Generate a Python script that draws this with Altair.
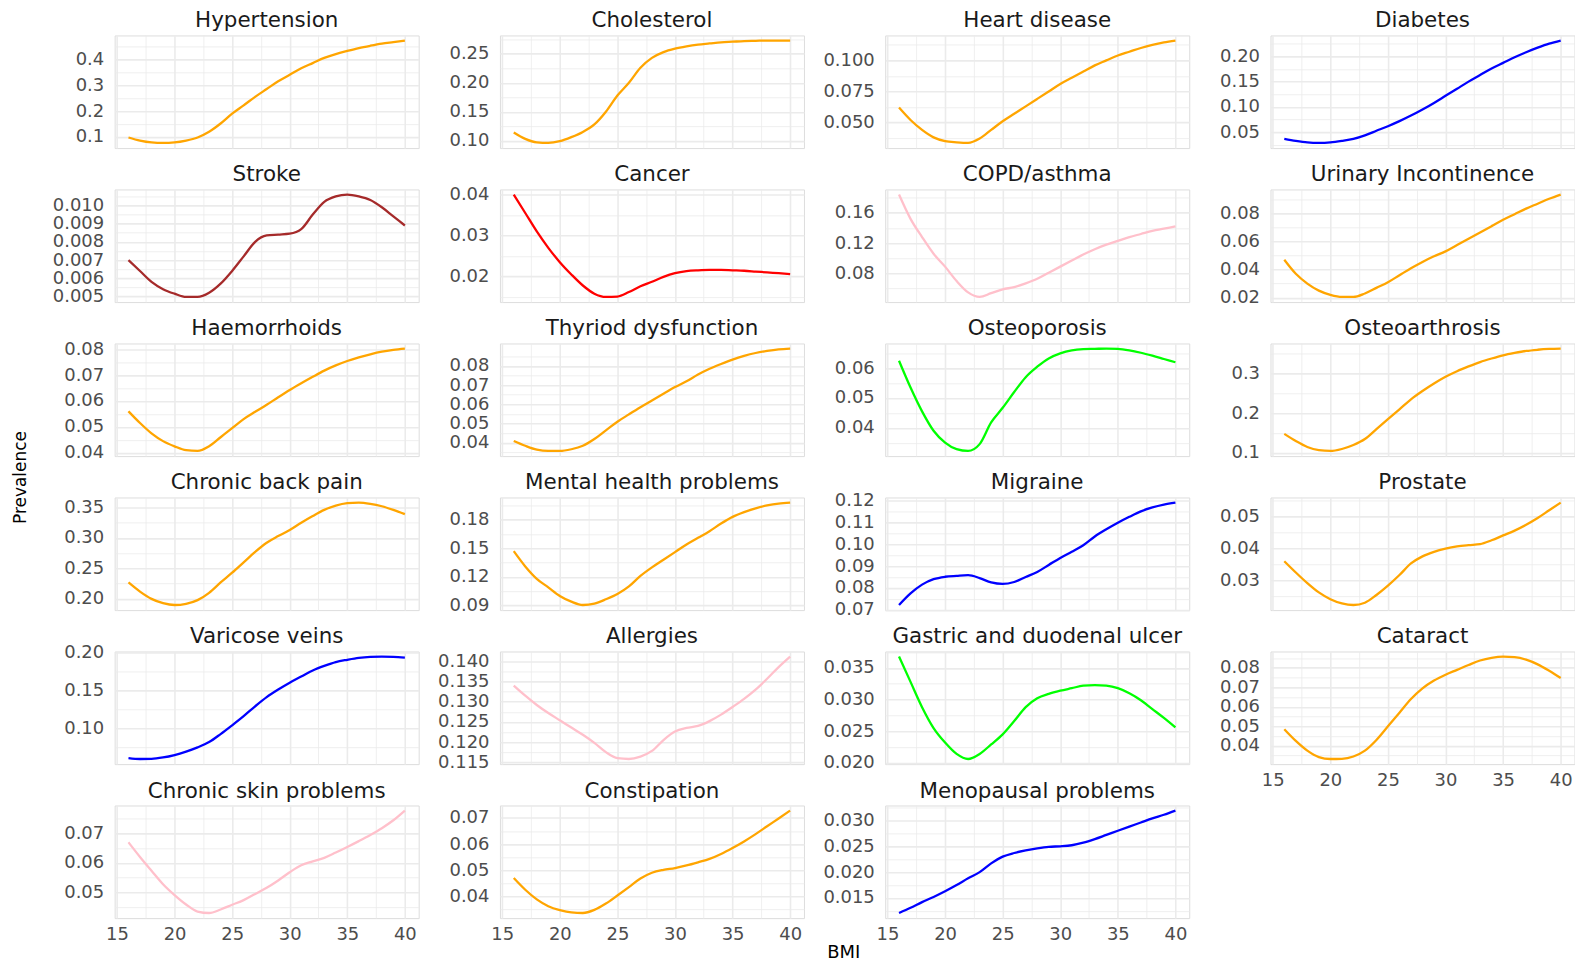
import altair as alt
import pandas as pd

bmi = list(range(16, 41))

names = ["Hypertension", "Cholesterol", "Heart disease", "Diabetes",
         "Stroke", "Cancer", "COPD/asthma", "Urinary Incontinence",
         "Haemorrhoids", "Thyriod dysfunction", "Osteoporosis", "Osteoarthrosis",
         "Chronic back pain", "Mental health problems", "Migraine", "Prostate",
         "Varicose veins", "Allergies", "Gastric and duodenal ulcer", "Cataract",
         "Chronic skin problems", "Constipation", "Menopausal problems"]

colors = ["orange", "orange", "orange", "blue",
          "brown", "red", "pink", "orange",
          "orange", "orange", "#00FF00", "orange",
          "orange", "orange", "blue", "orange",
          "blue", "pink", "#00FF00", "orange",
          "pink", "orange", "blue"]

hypertension = [0.098, 0.086, 0.079, 0.077, 0.079, 0.086, 0.098, 0.12, 0.152, 0.19, 0.222, 0.255, 0.285, 0.315, 0.34, 0.365, 0.385, 0.405, 0.42, 0.432, 0.443, 0.452, 0.46, 0.466, 0.472]
cholesterol = [0.114, 0.103, 0.097, 0.096, 0.099, 0.106, 0.115, 0.128, 0.15, 0.178, 0.2, 0.226, 0.243, 0.253, 0.259, 0.263, 0.266, 0.268, 0.27, 0.271, 0.272, 0.2725, 0.273, 0.273, 0.273]
heart = [0.062, 0.052, 0.044, 0.038, 0.035, 0.034, 0.0335, 0.037, 0.044, 0.051, 0.057, 0.063, 0.069, 0.075, 0.081, 0.086, 0.091, 0.096, 0.1, 0.104, 0.107, 0.11, 0.1125, 0.1145, 0.116]
diabetes = [0.037, 0.033, 0.030, 0.029, 0.030, 0.033, 0.037, 0.044, 0.053, 0.062, 0.072, 0.083, 0.095, 0.108, 0.122, 0.136, 0.15, 0.163, 0.176, 0.187, 0.198, 0.208, 0.217, 0.225, 0.231]
stroke = [0.0070, 0.0064, 0.0058, 0.0054, 0.00515, 0.00497, 0.00497, 0.0052, 0.0057, 0.0064, 0.0072, 0.0080, 0.00835, 0.0084, 0.00845, 0.0087, 0.0095, 0.0102, 0.0105, 0.0106, 0.0105, 0.0103, 0.0099, 0.0094, 0.0089]
cancer = [0.040, 0.0355, 0.031, 0.027, 0.0235, 0.0205, 0.0178, 0.0158, 0.015, 0.0151, 0.0162, 0.0176, 0.0187, 0.0199, 0.0208, 0.0213, 0.0215, 0.0216, 0.0216, 0.0215, 0.0214, 0.0212, 0.021, 0.0208, 0.0206]
copd = [0.184, 0.152, 0.128, 0.106, 0.089, 0.07, 0.055, 0.049, 0.054, 0.059, 0.062, 0.067, 0.073, 0.081, 0.089, 0.097, 0.105, 0.112, 0.118, 0.123, 0.128, 0.132, 0.136, 0.139, 0.142]
urinary = [0.047, 0.037, 0.030, 0.025, 0.022, 0.0205, 0.0205, 0.023, 0.027, 0.031, 0.036, 0.041, 0.0455, 0.0495, 0.053, 0.0575, 0.062, 0.0665, 0.071, 0.0755, 0.0795, 0.0835, 0.087, 0.0905, 0.0935]
haemorrhoids = [0.056, 0.0515, 0.0475, 0.0445, 0.0425, 0.041, 0.0407, 0.0425, 0.046, 0.0495, 0.053, 0.0558, 0.0585, 0.0614, 0.0642, 0.0668, 0.0693, 0.0717, 0.0737, 0.0754, 0.0768, 0.078, 0.079, 0.0797, 0.0802]
thyroid = [0.041, 0.0385, 0.0365, 0.0358, 0.0358, 0.0367, 0.0385, 0.042, 0.0465, 0.051, 0.0548, 0.0585, 0.062, 0.0655, 0.069, 0.072, 0.0755, 0.0785, 0.081, 0.0833, 0.0852, 0.0867, 0.0878, 0.0886, 0.089]
osteoporosis = [0.0625, 0.0535, 0.0455, 0.039, 0.035, 0.0328, 0.0322, 0.0345, 0.0418, 0.0467, 0.052, 0.057, 0.0605, 0.0633, 0.065, 0.066, 0.0664, 0.0665, 0.0666, 0.0665, 0.066, 0.0652, 0.0642, 0.0631, 0.062]
osteoarthrosis = [0.148, 0.13, 0.115, 0.107, 0.105, 0.11, 0.12, 0.135, 0.16, 0.185, 0.21, 0.235, 0.256, 0.275, 0.292, 0.306, 0.318, 0.329, 0.338, 0.346, 0.352, 0.357, 0.36, 0.362, 0.363]
backpain = [0.227, 0.212, 0.2, 0.193, 0.19, 0.192, 0.198, 0.21, 0.227, 0.243, 0.26, 0.277, 0.292, 0.303, 0.313, 0.325, 0.336, 0.346, 0.353, 0.357, 0.358, 0.356, 0.352, 0.346, 0.339]
mental = [0.147, 0.131, 0.118, 0.109, 0.1, 0.094, 0.0905, 0.092, 0.0965, 0.102, 0.11, 0.121, 0.13, 0.138, 0.146, 0.154, 0.161, 0.168, 0.176, 0.183, 0.188, 0.192, 0.195, 0.197, 0.198]
migraine = [0.0722, 0.0775, 0.0815, 0.084, 0.0851, 0.0855, 0.0858, 0.0845, 0.0825, 0.0818, 0.0827, 0.085, 0.0873, 0.0905, 0.0937, 0.0965, 0.0995, 0.1035, 0.1068, 0.1098, 0.1125, 0.115, 0.1168, 0.1181, 0.119]
prostate = [0.036, 0.0325, 0.0292, 0.0263, 0.0242, 0.0229, 0.0224, 0.0231, 0.0255, 0.0284, 0.0317, 0.0353, 0.0375, 0.0389, 0.0399, 0.0406, 0.041, 0.0413, 0.0425, 0.044, 0.0455, 0.0473, 0.0494, 0.0518, 0.0542]
varicose = [0.061, 0.0598, 0.06, 0.0618, 0.065, 0.0695, 0.075, 0.082, 0.0925, 0.104, 0.116, 0.129, 0.141, 0.151, 0.16, 0.168, 0.176, 0.182, 0.187, 0.19, 0.1925, 0.1938, 0.1942, 0.1938, 0.1928]
allergies = [0.134, 0.1315, 0.1292, 0.1272, 0.1254, 0.1236, 0.1218, 0.1198, 0.1175, 0.116, 0.1158, 0.1164, 0.1178, 0.1205, 0.1226, 0.1235, 0.124, 0.1252, 0.1268, 0.1287, 0.1307, 0.133, 0.1357, 0.1386, 0.1412]
gastric = [0.0368, 0.0328, 0.0288, 0.0255, 0.0232, 0.0214, 0.0206, 0.0214, 0.0229, 0.0245, 0.0266, 0.0288, 0.0302, 0.0309, 0.0314, 0.0318, 0.0322, 0.0323, 0.0322, 0.0318, 0.031, 0.0299, 0.0285, 0.0271, 0.0256]
cataract = [0.0485, 0.0425, 0.0375, 0.0342, 0.0332, 0.0333, 0.0345, 0.0375, 0.043, 0.05, 0.057, 0.064, 0.0695, 0.0735, 0.0765, 0.079, 0.0815, 0.0838, 0.0852, 0.0858, 0.0855, 0.0842, 0.0818, 0.0785, 0.0748]
skin = [0.067, 0.062, 0.0573, 0.0527, 0.049, 0.0458, 0.0434, 0.0429, 0.0441, 0.0457, 0.0473, 0.0494, 0.0515, 0.054, 0.0568, 0.0592, 0.0605, 0.0617, 0.0635, 0.0654, 0.0674, 0.0695, 0.0718, 0.0745, 0.0778]
constipation = [0.047, 0.0425, 0.0388, 0.0362, 0.0347, 0.0338, 0.0336, 0.0348, 0.0372, 0.0403, 0.0435, 0.0468, 0.049, 0.0501, 0.0508, 0.0518, 0.053, 0.0543, 0.0562, 0.0585, 0.061, 0.0638, 0.0668, 0.0698, 0.0728]
menopausal = [0.0121, 0.0131, 0.0142, 0.0152, 0.0163, 0.0175, 0.0188, 0.02, 0.0217, 0.023, 0.0237, 0.0242, 0.0246, 0.0249, 0.025, 0.0252, 0.0257, 0.0264, 0.0272, 0.028, 0.0288, 0.0296, 0.0304, 0.0311, 0.0319]

series = [hypertension, cholesterol, heart, diabetes, stroke, cancer, copd, urinary,
          haemorrhoids, thyroid, osteoporosis, osteoarthrosis, backpain, mental, migraine,
          prostate, varicose, allergies, gastric, cataract, skin, constipation, menopausal]

# y-axis major tick labels per panel
y_ticks = [
    [0.1, 0.2, 0.3, 0.4], [0.10, 0.15, 0.20, 0.25], [0.050, 0.075, 0.100], [0.05, 0.10, 0.15, 0.20],
    [0.005, 0.006, 0.007, 0.008, 0.009, 0.010], [0.02, 0.03, 0.04], [0.08, 0.12, 0.16], [0.02, 0.04, 0.06, 0.08],
    [0.04, 0.05, 0.06, 0.07, 0.08], [0.04, 0.05, 0.06, 0.07, 0.08], [0.04, 0.05, 0.06], [0.1, 0.2, 0.3],
    [0.20, 0.25, 0.30, 0.35], [0.09, 0.12, 0.15, 0.18], [0.07, 0.08, 0.09, 0.10, 0.11, 0.12], [0.03, 0.04, 0.05],
    [0.10, 0.15, 0.20], [0.115, 0.120, 0.125, 0.130, 0.135, 0.140], [0.020, 0.025, 0.030, 0.035], [0.04, 0.05, 0.06, 0.07, 0.08],
    [0.05, 0.06, 0.07], [0.04, 0.05, 0.06, 0.07], [0.015, 0.020, 0.025, 0.030],
]
y_formats = [".1f", ".2f", ".3f", ".2f", ".3f", ".2f", ".2f", ".2f",
             ".2f", ".2f", ".2f", ".1f", ".2f", ".2f", ".2f", ".2f",
             ".2f", ".3f", ".3f", ".2f", ".2f", ".2f", ".3f"]

x_ticks = [15, 17.5, 20, 22.5, 25, 27.5, 30, 32.5, 35, 37.5, 40]

FONT = "DejaVu Sans"
GRID = "#EBEBEB"
W, H = 305, 113
TICK_FS = 18
bottom_panels = {"Cataract", "Chronic skin problems", "Constipation", "Menopausal problems"}

panels = []
for i, name in enumerate(names):
    vals = series[i]
    df = pd.DataFrame({"BMI": bmi, "Prevalence": vals})
    lo, hi = min(vals), max(vals)
    pad = 0.05 * (hi - lo)
    dom = [lo - pad, hi + pad]
    majors = y_ticks[i]
    step = round(majors[1] - majors[0], 6)
    allv = set(round(m, 6) for m in majors)
    for m in majors + [majors[0] - step, majors[-1] + step]:
        for mv in (m - step / 2, m + step / 2):
            allv.add(round(mv, 6))
    allv = sorted(v for v in allv if dom[0] <= v <= dom[1])
    test = f"abs(datum.value/{step} - round(datum.value/{step})) < 0.01"

    y_axis_kw = dict(
        values=allv, format=y_formats[i], labelExpr=f"{test} ? datum.label : ''",
        grid=True, gridColor=GRID,
        gridWidth={"condition": {"test": test, "value": 1.6}, "value": 0.8},
        domain=False, ticks=False, labelOverlap=False, labelPadding=11,
        labelFont=FONT, labelFontSize=TICK_FS, labelColor="#4D4D4D", title=None,
    )
    if name == "Haemorrhoids":
        y_axis_kw.update(title="Prevalence", titleX=-94, titleY=H + 21, titleAngle=-90,
                         titleBaseline="middle", titleAlign="center", titleFont=FONT,
                         titleFontSize=17, titleFontWeight="normal", titleColor="black")

    show_x = name in bottom_panels
    x_axis_kw = dict(
        values=x_ticks, labels=show_x, labelExpr="datum.value % 5 === 0 ? datum.label : ''",
        grid=True, gridColor=GRID,
        gridWidth={"condition": {"test": "datum.value % 5 === 0", "value": 1.6}, "value": 0.8},
        domain=False, ticks=False, labelOverlap=False, labelFlush=False, labelPadding=7,
        labelFont=FONT, labelFontSize=TICK_FS, labelColor="#4D4D4D", title=None,
    )
    if name == "Constipation":
        x_axis_kw.update(title="BMI", titleX=W / 2 + 192, titleY=35, titleBaseline="middle",
                         titleFont=FONT, titleFontSize=18, titleFontWeight="normal",
                         titleColor="black")

    line = alt.Chart(df).mark_line(
        color=colors[i], strokeWidth=2.3, interpolate="monotone"
    ).encode(
        x=alt.X("BMI:Q", scale=alt.Scale(domain=[14.8, 41.2], nice=False, zero=False),
                axis=alt.Axis(**x_axis_kw)),
        y=alt.Y("Prevalence:Q", scale=alt.Scale(domain=dom, nice=False, zero=False),
                axis=alt.Axis(**y_axis_kw)),
    )
    title = alt.Chart(alt.Data(values=[{"t": name}])).mark_text(
        font=FONT, fontSize=21.5, color="#1A1A1A", align="center", baseline="middle"
    ).encode(
        x=alt.value(W / 2), y=alt.value(-14), text="t:N"
    )
    panels.append(alt.layer(line, title).properties(width=W, height=H))

chart = alt.concat(
    *panels, columns=4, spacing={"row": 41.5, "column": 81.5}, bounds="flush"
).properties(
    padding={"left": 3, "top": 0, "right": 0, "bottom": 0}
).configure_view(stroke=None).configure(background="white")

chart.save("out.html", embed_options={"renderer": "svg", "actions": False})
